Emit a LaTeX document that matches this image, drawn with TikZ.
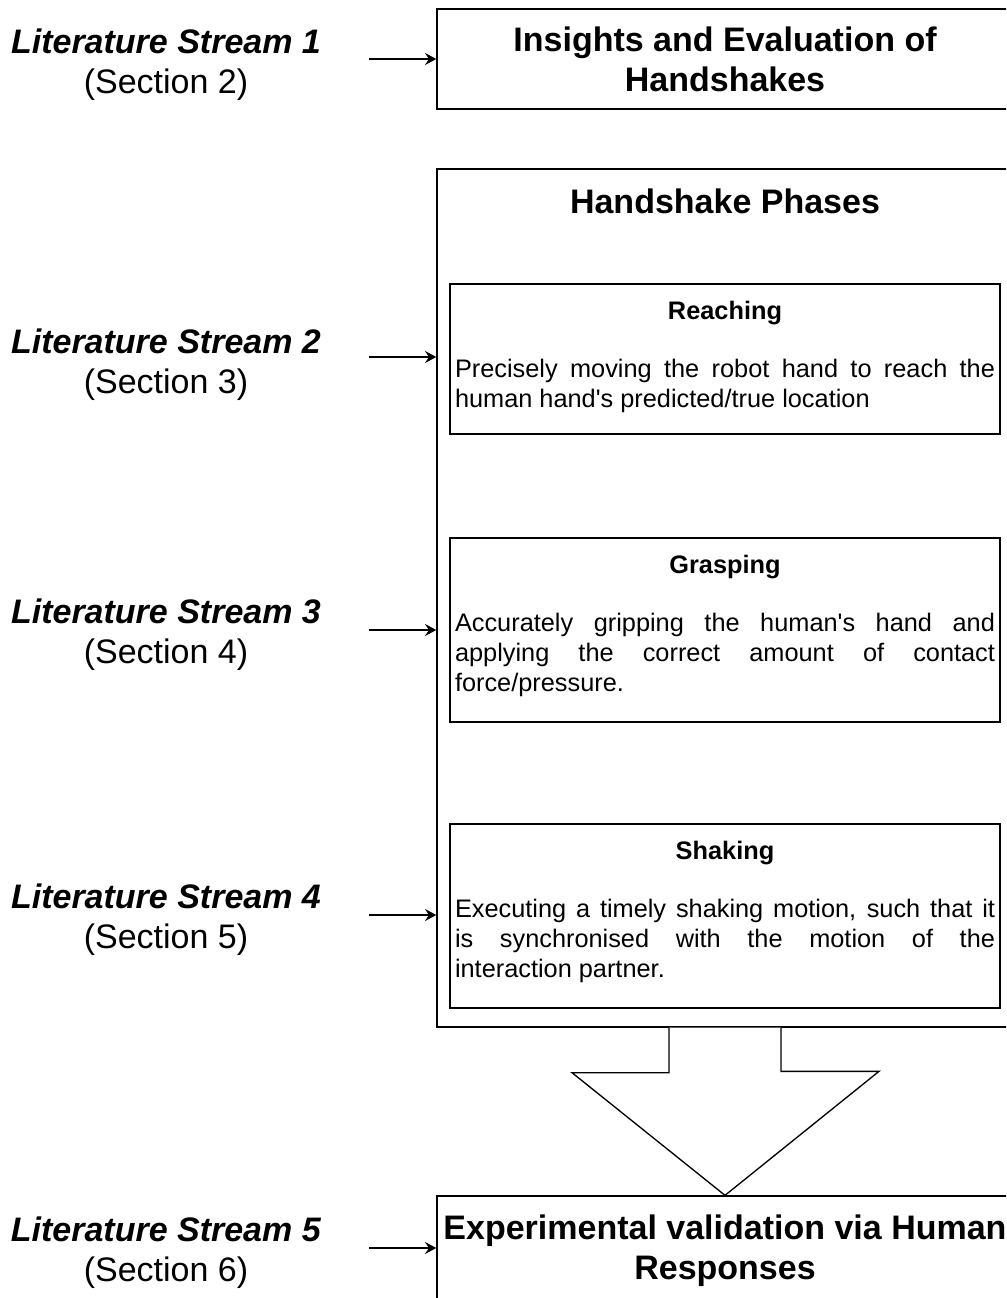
\documentclass[tikz,border=0pt]{standalone}
\usepackage{fontspec}
\setmainfont{Liberation Sans}
\usetikzlibrary{positioning,arrows.meta}

\begin{document}
\begin{tikzpicture}[x=0.75pt,y=-0.75pt,line width=1pt,
    every node/.style={inner sep=0pt},
    stream/.style={align=center,font=\fontsize{25.5}{30}\selectfont},
    bigbox/.style={draw,minimum width=432pt,align=center,font=\fontsize{25.5}{30}\selectfont\bfseries},
    bigtitle/.style={font=\fontsize{25.5}{30}\selectfont\bfseries},
    phase/.style={draw,minimum width=412.5pt,minimum height=138pt},
    phasetitle/.style={font=\fontsize{19}{22.5}\selectfont\bfseries},
    phasetext/.style={text width=405pt,align=justify,font=\fontsize{19}{22.5}\selectfont},
    feed/.style={-{Stealth[length=8.5pt,width=9pt,inset=3pt]}}] %
    \clip (0,0) rectangle (1006,1298);
    % left column
    \node[stream] (lit1) at (166,65) {\textbf{\textit{Literature Stream 1}}\\(Section 2)};
    \node[stream] (lit2) at (166,365) {\textbf{\textit{Literature Stream 2}}\\(Section 3)};
    \node[stream] (lit3) at (166,635) {\textbf{\textit{Literature Stream 3}}\\(Section 4)};
    \node[stream] (lit4) at (166,920) {\textbf{\textit{Literature Stream 4}}\\(Section 5)};
    \node[stream] (lit5) at (166,1253) {\textbf{\textit{Literature Stream 5}}\\(Section 6)};
    % right column
    \node[bigbox,minimum height=75pt] (insight) at (725,59) {Insights and Evaluation of\\Handshakes};
    \node[bigbox,minimum height=643.5pt] (phases) at (725,598) {};
    \node[bigtitle,anchor=base] (phasesT) at (725,214) {Handshake Phases};
    \node[phase,minimum height=112.5pt] (reach) at (725,359) {};
    \node[phasetitle,anchor=base] (reachT) at ([yshift=-27pt]reach.north) {Reaching};
    \node[phasetext,anchor=north] (reachB) at ([yshift=-56pt]reach.north) {Precisely moving the robot hand to reach the\linebreak human hand\textquotesingle s predicted/true location};
    \node[phase] (grasp) at (725,630) {};
    \node[phasetitle,anchor=base] (graspT) at ([yshift=-27pt]grasp.north) {Grasping};
    \node[phasetext,anchor=north] (graspB) at ([yshift=-56pt]grasp.north) {Accurately gripping the human\textquotesingle s hand and\linebreak applying the correct amount of contact\linebreak force/pressure.};
    \node[phase] (shake) at (725,916) {};
    \node[phasetitle,anchor=base] (shakeT) at ([yshift=-27pt]shake.north) {Shaking};
    \node[phasetext,anchor=north] (shakeB) at ([yshift=-56pt]shake.north) {Executing a timely shaking motion, such that it\linebreak is synchronised with the motion of the\linebreak interaction partner.};
    \node[bigbox,minimum height=82.5pt] (valid) at (725,1251) {Experimental validation via Human\\Responses};
    % arrows
    \coordinate (s1) at (369,59);
    \coordinate (s2) at (369,357);
    \coordinate (s3) at (369,630);
    \coordinate (s4) at (369,915);
    \coordinate (s5) at (369,1248);
    \draw[feed] (s1) -- (s1 -| insight.west);
    \draw[feed] (s2) -- (s2 -| phases.west);
    \draw[feed] (s3) -- (s3 -| phases.west);
    \draw[feed] (s4) -- (s4 -| phases.west);
    \draw[feed] (s5) -- (s5 -| valid.west);
    \draw[fill=white] ([xshift=-42pt]phases.south) -- ++(0,45) -- ++(-97,0) -- (valid.north)
        -- ++(154,-124) -- ++(-98,0) -- ([xshift=42pt]phases.south);
\end{tikzpicture}
\end{document}
